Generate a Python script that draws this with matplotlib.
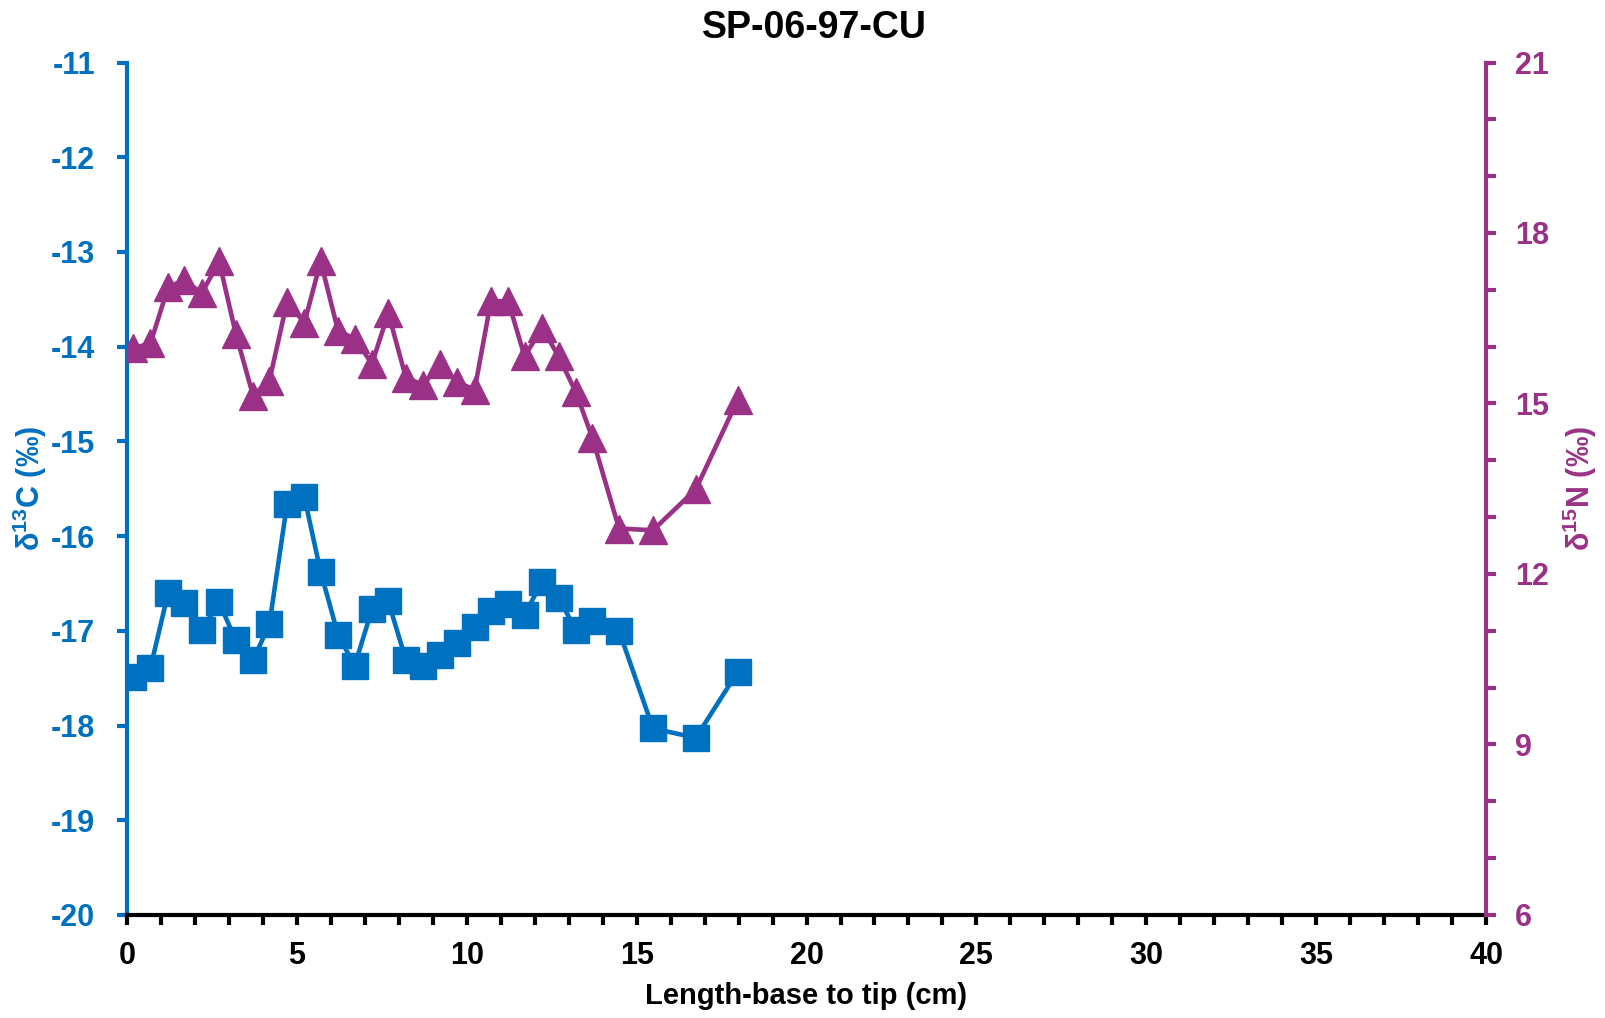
import matplotlib
matplotlib.use("Agg")
import matplotlib.pyplot as plt
from matplotlib.ticker import MultipleLocator

plt.rcParams['font.family'] = ['Liberation Sans', 'DejaVu Sans']
plt.rcParams['font.weight'] = 'bold'
plt.rcParams['axes.unicode_minus'] = False
plt.rcParams['mathtext.fontset'] = 'custom'
plt.rcParams['mathtext.rm'] = 'Liberation Sans:bold'
plt.rcParams['mathtext.bf'] = 'Liberation Sans:bold'
plt.rcParams['mathtext.it'] = 'Liberation Sans:bold'

title = "SP-06-97-CU"
x_label = "Length-base to tip (cm)"

length_c = [0.18, 0.69, 1.21, 1.69, 2.20, 2.71, 3.20, 3.71, 4.19, 4.71, 5.22, 5.70,
            6.21, 6.70, 7.21, 7.69, 8.21, 8.72, 9.20, 9.71, 10.23, 10.71, 11.22, 11.70,
            12.22, 12.70, 13.21, 13.70, 14.48, 15.48, 16.74, 17.98]
d13c = [-17.49, -17.39, -16.60, -16.71, -16.99, -16.70, -17.10, -17.31, -16.93, -15.66,
        -15.59, -16.38, -17.04, -17.37, -16.77, -16.69, -17.31, -17.37, -17.26, -17.13,
        -16.96, -16.79, -16.72, -16.83, -16.48, -16.65, -16.99, -16.90, -17.00, -18.03,
        -18.13, -17.43]

length_n = length_c
d15n = [15.97, 16.06, 17.05, 17.17, 16.94, 17.50, 16.23, 15.14, 15.40, 16.79, 16.42, 17.50,
        16.28, 16.14, 15.70, 16.59, 15.45, 15.33, 15.69, 15.38, 15.24, 16.80, 16.80, 15.83,
        16.33, 15.83, 15.20, 14.39, 12.80, 12.77, 13.49, 15.07]

blue = '#0070C0'
purple = '#9A3186'

fig = plt.figure(figsize=(16.06, 10.18), dpi=100)
ax = fig.add_axes([0.0791, 0.1012, 0.8462, 0.8374])
ax2 = ax.twinx()

ax.plot(length_c, d13c, color=blue, lw=3.3, marker='s', ms=19, mec=blue, mfc=blue,
        solid_joinstyle='round', zorder=3)
ax2.plot(length_n, d15n, color=purple, lw=3.3, marker='^', ms=20, mec=purple, mfc=purple,
         solid_joinstyle='round', zorder=3)

ax.set_xlim(0, 40)
ax.set_ylim(-20, -11)
ax2.set_ylim(6, 21)

ax.xaxis.set_major_locator(MultipleLocator(5))
ax.xaxis.set_minor_locator(MultipleLocator(1))
ax.yaxis.set_major_locator(MultipleLocator(1))
ax2.yaxis.set_major_locator(MultipleLocator(3))
ax2.yaxis.set_minor_locator(MultipleLocator(1))

for a in (ax, ax2):
    a.spines['top'].set_visible(False)
ax.spines['right'].set_visible(False)
ax2.spines['left'].set_visible(False)
ax2.spines['bottom'].set_visible(False)
ax.spines['left'].set_color(blue)
ax.spines['left'].set_linewidth(3)
ax.spines['bottom'].set_color('black')
ax.spines['bottom'].set_linewidth(3)
ax2.spines['right'].set_color(purple)
ax2.spines['right'].set_linewidth(3)

ax.tick_params(axis='x', which='both', direction='out', length=7, width=3, color='black',
               labelsize=22, pad=12, labelcolor='black')
ax.tick_params(axis='y', which='major', direction='out', length=7, width=3, color=blue,
               labelsize=22, pad=16, labelcolor=blue)
ax2.tick_params(axis='y', which='both', direction='out', length=7, width=3, color=purple,
                labelsize=22, pad=14, labelcolor=purple)

for lab in ax.get_xticklabels() + ax.get_yticklabels() + ax2.get_yticklabels():
    lab.set_fontweight('bold')

ax.set_xlabel(x_label, fontsize=21, fontweight='bold', color='black', labelpad=8)
ax.set_ylabel('δ$^{13}$C (‰)', fontsize=22, fontweight='bold', color=blue, labelpad=1)
ax2.set_ylabel('δ$^{15}$N (‰)', fontsize=22, fontweight='bold', color=purple,
               rotation=90, labelpad=8)
ax.set_title(title, fontsize=27, fontweight='bold', pad=18, x=0.506)

fig.savefig('out.png', dpi=100)
